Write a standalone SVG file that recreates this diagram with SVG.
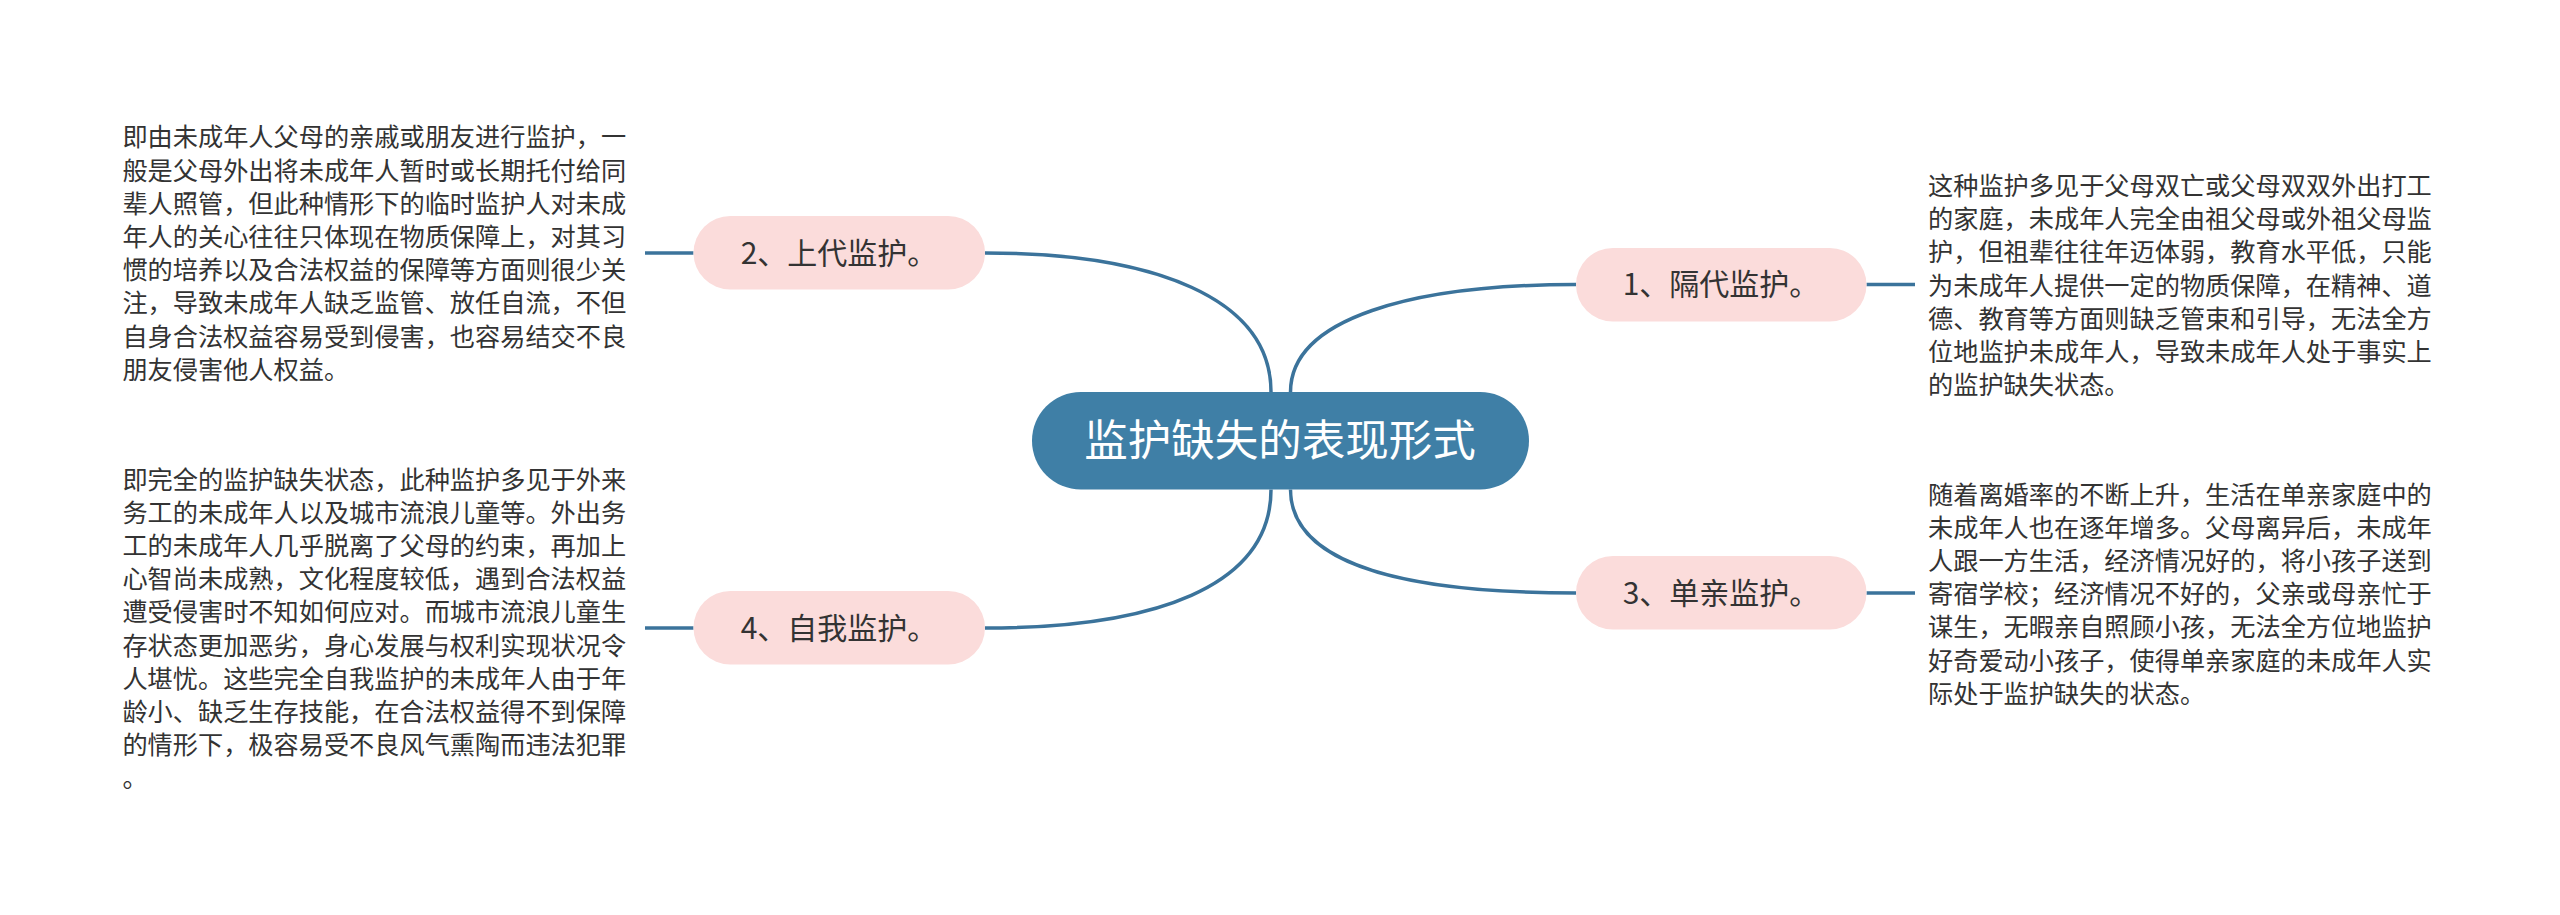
<svg xmlns="http://www.w3.org/2000/svg" width="2560" height="915" viewBox="0 0 2560 915">
<style>
.desc{font-family:"Noto Sans CJK SC","Noto Sans",sans-serif;font-size:25.2px;fill:#333333}
.lbl{font-family:"Noto Sans CJK SC","Noto Sans",sans-serif;font-size:30px;fill:#333333;text-anchor:middle}
.pill{fill:#fbdcdb}
.conn{fill:none;stroke:#3b739b;stroke-width:3.5}
</style>
<rect width="2560" height="915" fill="#ffffff"/>
<g id="connectors">
<path class="conn" d="M1271,392 C1271,298 1154,253 985,253"/>
<path class="conn" d="M1271,489.5 C1271,587 1154,628 985,628"/>
<path class="conn" d="M1290.5,392 C1290.5,318 1413,284.5 1576,284.5"/>
<path class="conn" d="M1290.5,489.5 C1290.5,567 1413,593 1576,593"/>
<path class="conn" d="M693.5,253 H645"/>
<path class="conn" d="M693.5,628 H645"/>
<path class="conn" d="M1866.5,284.5 H1915"/>
<path class="conn" d="M1866.5,593 H1915"/>
</g>
<g id="root">
<rect x="1032" y="392" width="497" height="97.5" rx="48.75" fill="#3f7fa6"/>
<text x="1280" y="456" font-family="Noto Sans CJK SC,Noto Sans,sans-serif" font-size="43.5" fill="#ffffff" text-anchor="middle">监护缺失的表现形式</text>
</g>
<g id="node1">
<rect class="pill" x="1576" y="248" width="290.5" height="73.6" rx="36.8"/>
<text class="lbl" x="1721" y="295">1、隔代监护。</text>
</g>
<g id="node2">
<rect class="pill" x="693.5" y="216" width="291.5" height="73.6" rx="36.8"/>
<text class="lbl" x="839" y="264">2、上代监护。</text>
</g>
<g id="node3">
<rect class="pill" x="1576" y="556" width="290.5" height="73.6" rx="36.8"/>
<text class="lbl" x="1721" y="604">3、单亲监护。</text>
</g>
<g id="node4">
<rect class="pill" x="693.5" y="591" width="291.5" height="73.6" rx="36.8"/>
<text class="lbl" x="839" y="639">4、自我监护。</text>
</g>
<g id="desc2">
<text class="desc" y="146.3">
<tspan x="122.4">即由未成年人父母的亲戚或朋友进行监护，一</tspan>
<tspan x="122.4" dy="33.2">般是父母外出将未成年人暂时或长期托付给同</tspan>
<tspan x="122.4" dy="33.2">辈人照管，但此种情形下的临时监护人对未成</tspan>
<tspan x="122.4" dy="33.2">年人的关心往往只体现在物质保障上，对其习</tspan>
<tspan x="122.4" dy="33.2">惯的培养以及合法权益的保障等方面则很少关</tspan>
<tspan x="122.4" dy="33.2">注，导致未成年人缺乏监管、放任自流，不但</tspan>
<tspan x="122.4" dy="33.2">自身合法权益容易受到侵害，也容易结交不良</tspan>
<tspan x="122.4" dy="33.2">朋友侵害他人权益。</tspan>
</text>
</g>
<g id="desc4">
<text class="desc" y="488.5">
<tspan x="122.4">即完全的监护缺失状态，此种监护多见于外来</tspan>
<tspan x="122.4" dy="33.2">务工的未成年人以及城市流浪儿童等。外出务</tspan>
<tspan x="122.4" dy="33.2">工的未成年人几乎脱离了父母的约束，再加上</tspan>
<tspan x="122.4" dy="33.2">心智尚未成熟，文化程度较低，遇到合法权益</tspan>
<tspan x="122.4" dy="33.2">遭受侵害时不知如何应对。而城市流浪儿童生</tspan>
<tspan x="122.4" dy="33.2">存状态更加恶劣，身心发展与权利实现状况令</tspan>
<tspan x="122.4" dy="33.2">人堪忧。这些完全自我监护的未成年人由于年</tspan>
<tspan x="122.4" dy="33.2">龄小、缺乏生存技能，在合法权益得不到保障</tspan>
<tspan x="122.4" dy="33.2">的情形下，极容易受不良风气熏陶而违法犯罪</tspan>
<tspan x="122.4" dy="33.2">。</tspan>
</text>
</g>
<g id="desc1">
<text class="desc" y="195">
<tspan x="1928">这种监护多见于父母双亡或父母双双外出打工</tspan>
<tspan x="1928" dy="33.2">的家庭，未成年人完全由祖父母或外祖父母监</tspan>
<tspan x="1928" dy="33.2">护，但祖辈往往年迈体弱，教育水平低，只能</tspan>
<tspan x="1928" dy="33.2">为未成年人提供一定的物质保障，在精神、道</tspan>
<tspan x="1928" dy="33.2">德、教育等方面则缺乏管束和引导，无法全方</tspan>
<tspan x="1928" dy="33.2">位地监护未成年人，导致未成年人处于事实上</tspan>
<tspan x="1928" dy="33.2">的监护缺失状态。</tspan>
</text>
</g>
<g id="desc3">
<text class="desc" y="503.5">
<tspan x="1928">随着离婚率的不断上升，生活在单亲家庭中的</tspan>
<tspan x="1928" dy="33.2">未成年人也在逐年增多。父母离异后，未成年</tspan>
<tspan x="1928" dy="33.2">人跟一方生活，经济情况好的，将小孩子送到</tspan>
<tspan x="1928" dy="33.2">寄宿学校；经济情况不好的，父亲或母亲忙于</tspan>
<tspan x="1928" dy="33.2">谋生，无暇亲自照顾小孩，无法全方位地监护</tspan>
<tspan x="1928" dy="33.2">好奇爱动小孩子，使得单亲家庭的未成年人实</tspan>
<tspan x="1928" dy="33.2">际处于监护缺失的状态。</tspan>
</text>
</g>
</svg>
